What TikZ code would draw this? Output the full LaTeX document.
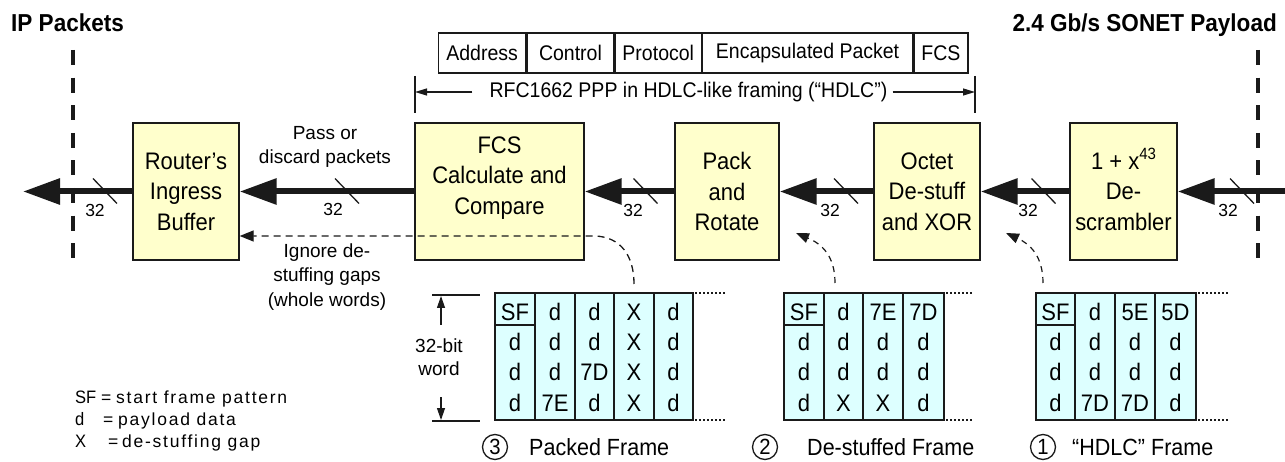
\documentclass[tikz,border=0pt]{standalone}
\usepackage{fontspec}
\setmainfont{Liberation Sans}[FakeStretch=0.92]
\newfontfamily\plainfont{Liberation Sans}
\newfontfamily\spacedfont{Liberation Sans}[LetterSpace=10]
\usetikzlibrary{arrows.meta}
\definecolor{boxyellow}{HTML}{FFFFCC}
\definecolor{cellcyan}{HTML}{DDFFFF}
\definecolor{ink}{HTML}{1A1A1A}
\tikzset{
 blk/.style={draw=ink, line width=1.3pt, fill=boxyellow, minimum height=137pt, align=center, font=\fontsize{23.9}{30.5}\selectfont, inner sep=0pt},
 blktext/.style={align=center, font=\fontsize{23.9}{30.5}\selectfont, inner sep=0pt},
 flow/.style={draw=ink, line width=6pt, -{Triangle[length=37pt,width=25pt]}},
 slashmark/.style={draw=ink, line width=1.3pt},
 buslabel/.style={font=\plainfont\fontsize{17.5}{17.5}\selectfont, inner sep=0pt},
 note/.style={font=\plainfont\fontsize{19}{24.5}\selectfont, align=center, inner sep=0pt},
 rfcnote/.style={font=\fontsize{21.2}{22}\selectfont, inner sep=0pt},
 hdr/.style={draw=ink, line width=1.3pt, minimum height=40pt, anchor=west, inner sep=0pt, font=\fontsize{21.2}{22}\selectfont},
 title/.style={font=\bfseries\fontsize{24.5}{26}\selectfont, inner sep=0pt},
 boundary/.style={draw=ink, line width=4pt, dash pattern=on 15pt off 12.6pt},
 dashflow/.style={draw=ink, line width=1.3pt, dash pattern=on 7pt off 5pt, -{Triangle[length=14pt,width=11pt]}},
 curveflow/.style={draw=ink, line width=1.2pt, dash pattern=on 6pt off 5pt, -{Triangle[length=13pt,width=10pt]}},
 thinarrow/.style={draw=ink, line width=1.2pt, -{Triangle[length=12pt,width=7pt]}},
 brackarrow/.style={draw=ink, line width=1.2pt, -{Triangle[length=12pt,width=8pt]}},
 thinline/.style={draw=ink, line width=1.2pt},
 cell/.style={draw=ink, line width=1.3pt, fill=cellcyan},
 celltxt/.style={anchor=base, font=\fontsize{23.9}{24}\selectfont, inner sep=0pt},
 dotline/.style={draw=ink, line width=1.3pt, dash pattern=on 1.5pt off 2.5pt},
 caption/.style={font=\fontsize{23.4}{24}\selectfont, inner sep=0pt},
 numcircle/.style={circle, draw=ink, line width=1.3pt, minimum size=25pt, inner sep=0pt, font=\fontsize{22}{22}\selectfont},
 legend/.style={anchor=base west, font=\spacedfont\fontsize{17.5}{18}\selectfont, inner sep=0pt},
 legendkey/.style={anchor=base west, font=\fontsize{18}{18}\selectfont, inner sep=0pt}
}
\begin{document}
\begin{tikzpicture}[x=1pt,y=-1pt]
\fill[white] (0,0) rectangle (1285,462);
\useasboundingbox (0,0) rectangle (1285,462);

% titles
\node[title, anchor=base west] (tIP) at (11,32) {IP Packets};
\node[title, anchor=base east] (tSO) at (1277,32) {2.4 Gb/s SONET Payload};

% boundaries
\draw[boundary] (73,50) -- (73,258);
\draw[boundary] (1258,50) -- (1258,258);

% header
\node[hdr, minimum width=87pt] (hAddr) at (438,53) {Address};
\node[hdr, minimum width=87pt] (hCtrl) at (hAddr.east) {Control};
\node[hdr, minimum width=86pt] (hProt) at (hCtrl.east) {Protocol};
\node[hdr, minimum width=210pt] (hEnc) at (hProt.east) {Encapsulated Packet};
\node[hdr, minimum width=54pt] (hFCS) at (hEnc.east) {FCS};

% RFC span
\node[rfcnote] (rfc) at (688.5,92) {RFC1662 PPP in HDLC-like framing (“HDLC”)};
\coordinate (barL) at (415,92);
\coordinate (barR) at (975,92);
\draw[thinline] (415,76) -- (415,113);
\draw[thinline] (975,76) -- (975,113);
\draw[thinarrow] ([xshift=-17pt]rfc.west) -- (barL);
\draw[thinarrow] ([xshift=5pt]rfc.east) -- (barR);

% blocks
\node[blk, minimum width=106pt] (router) at (186,191.5) {Router’s\\Ingress\\Buffer};
\node[blk, minimum width=169pt] (fcs) at (499.5,191.5) {};
\node[blktext] (fcstext) at (499.5,178) {FCS\\Calculate and\\Compare};
\node[blk, minimum width=104pt] (pack) at (727,191.5) {Pack\\and\\Rotate};
\node[blk, minimum width=106pt] (octet) at (927,191.5) {Octet\\De-stuff\\and XOR};
\node[blk, minimum width=107pt] (descr) at (1123.5,191.5) {1 + x\smash{\raisebox{0.42em}{\fontsize{16.3}{16}\selectfont 43}}\\De-\\scrambler};

% main flow
\coordinate (inR) at (1290,191.5);
\coordinate (outL) at (23,191.5);
\draw[flow] (inR) -- (descr.east);
\draw[flow] (descr.west) -- (octet.east);
\draw[flow] (octet.west) -- (pack.east);
\draw[flow] (pack.west) -- (fcs.east);
\draw[flow] (fcs.west) -- (router.east);
\draw[flow] (router.west) -- (outL);

% bus width marks
\foreach \cx in {105,347,645.5,846,1043.5,1242}
  \draw[slashmark] (\cx-12,178.5) -- (\cx+12,203.5);
\node[buslabel] (b1) at (95,210) {32};
\node[buslabel] (b2) at (333,209) {32};
\node[buslabel] (b3) at (633,210) {32};
\node[buslabel] (b4) at (830,210) {32};
\node[buslabel] (b5) at (1028,210) {32};
\node[buslabel] (b6) at (1228,210) {32};

% notes
\node[note] (pass) at (325,147) {Pass or\\discard packets};
\node[note] (ignore) at (327,277) {Ignore de-\\stuffing gaps\\(whole words)};

% dashed feedback paths
\coordinate (ylev) at (0,236);
\coordinate (f3top) at (634,284);
\coordinate (f2top) at (835,283);
\coordinate (f1top) at (1043,283);
\coordinate (pkend) at (796,233);
\coordinate (ocend) at (1006,233);
\draw[dashflow] (f3top) .. controls (634,256) and (621,237) .. (595,236) -- (router.east |- ylev);
\draw[curveflow] (f2top) .. controls (835,256) and (822,244) .. (pkend);
\draw[curveflow] (f1top) .. controls (1043,256) and (1030,244) .. (ocend);

% 32-bit word bracket
\draw[thinline] (432,295) -- (480,295);
\draw[thinline] (432,421) -- (480,421);
\draw[brackarrow] (441,325) -- (441,296);
\draw[brackarrow] (441,397) -- (441,420);
\node[note, font=\plainfont\fontsize{19}{23}\selectfont] (word) at (439,357) {32-bit\\word};

% frames
\foreach \xl/\xr/\ra/\rb/\rc/\rd [count=\n] in {495/535/SF/d/d/d, 535/575/d/d/d/7E, 575/614/d/d/7D/d, 614/654/X/X/X/X, 654/693/d/d/d/d}{
  \draw[cell] (\xl,293) rectangle (\xr,420);
  \node[celltxt] (pk\n a) at ({(\xl+\xr)/2},320) {\ra};
  \node[celltxt] (pk\n b) at ({(\xl+\xr)/2},350) {\rb};
  \node[celltxt] (pk\n c) at ({(\xl+\xr)/2},380.5) {\rc};
  \node[celltxt] (pk\n d) at ({(\xl+\xr)/2},411) {\rd};
}
\draw[thinline] (495,325) -- (535,325);
\draw[dotline] (695,293) -- (725,293);
\draw[dotline] (695,420) -- (725,420);

\foreach \xl/\xr/\ra/\rb/\rc/\rd [count=\n] in {784/824/SF/d/d/d, 824/863/d/d/d/X, 863/903/7E/d/d/X, 903/944/7D/d/d/d}{
  \draw[cell] (\xl,293) rectangle (\xr,420);
  \node[celltxt] (ds\n a) at ({(\xl+\xr)/2},320) {\ra};
  \node[celltxt] (ds\n b) at ({(\xl+\xr)/2},350) {\rb};
  \node[celltxt] (ds\n c) at ({(\xl+\xr)/2},380.5) {\rc};
  \node[celltxt] (ds\n d) at ({(\xl+\xr)/2},411) {\rd};
}
\draw[thinline] (784,325) -- (824,325);
\draw[dotline] (946,293) -- (974,293);
\draw[dotline] (946,420) -- (974,420);

\foreach \xl/\xr/\ra/\rb/\rc/\rd [count=\n] in {1036/1075/SF/d/d/d, 1075/1115/d/d/d/7D, 1115/1155/5E/d/d/7D, 1155/1196/5D/d/d/d}{
  \draw[cell] (\xl,293) rectangle (\xr,420);
  \node[celltxt] (hd\n a) at ({(\xl+\xr)/2},320) {\ra};
  \node[celltxt] (hd\n b) at ({(\xl+\xr)/2},350) {\rb};
  \node[celltxt] (hd\n c) at ({(\xl+\xr)/2},380.5) {\rc};
  \node[celltxt] (hd\n d) at ({(\xl+\xr)/2},411) {\rd};
}
\draw[thinline] (1036,325) -- (1075,325);
\draw[dotline] (1198,293) -- (1228,293);
\draw[dotline] (1198,420) -- (1228,420);

% captions
\node[numcircle] (n3) at (495,447) {3};
\node[caption, anchor=west] (cap3) at (529,447) {Packed Frame};
\node[numcircle] (n2) at (765,447) {2};
\node[caption, anchor=west] (cap2) at (807,447) {De-stuffed Frame};
\node[numcircle] (n1) at (1043,447) {1};
\node[caption, anchor=west] (cap1) at (1072,447) {“HDLC” Frame};

% legend
\node[legendkey] (lgSF) at (75,403) {SF};
\node[legend] (lgSFe) at (101,403) {=};
\node[legend] (lgSFt) at (116,403) {start frame pattern};
\node[legendkey] (lgd) at (75,425) {d};
\node[legend] (lgde) at (103,425) {=};
\node[legend] (lgdt) at (118,425) {payload data};
\node[legendkey] (lgX) at (75,447) {X};
\node[legend] (lgXe) at (108,447) {=};
\node[legend] (lgXt) at (122,447) {de-stuffing gap};
\end{tikzpicture}
\end{document}
